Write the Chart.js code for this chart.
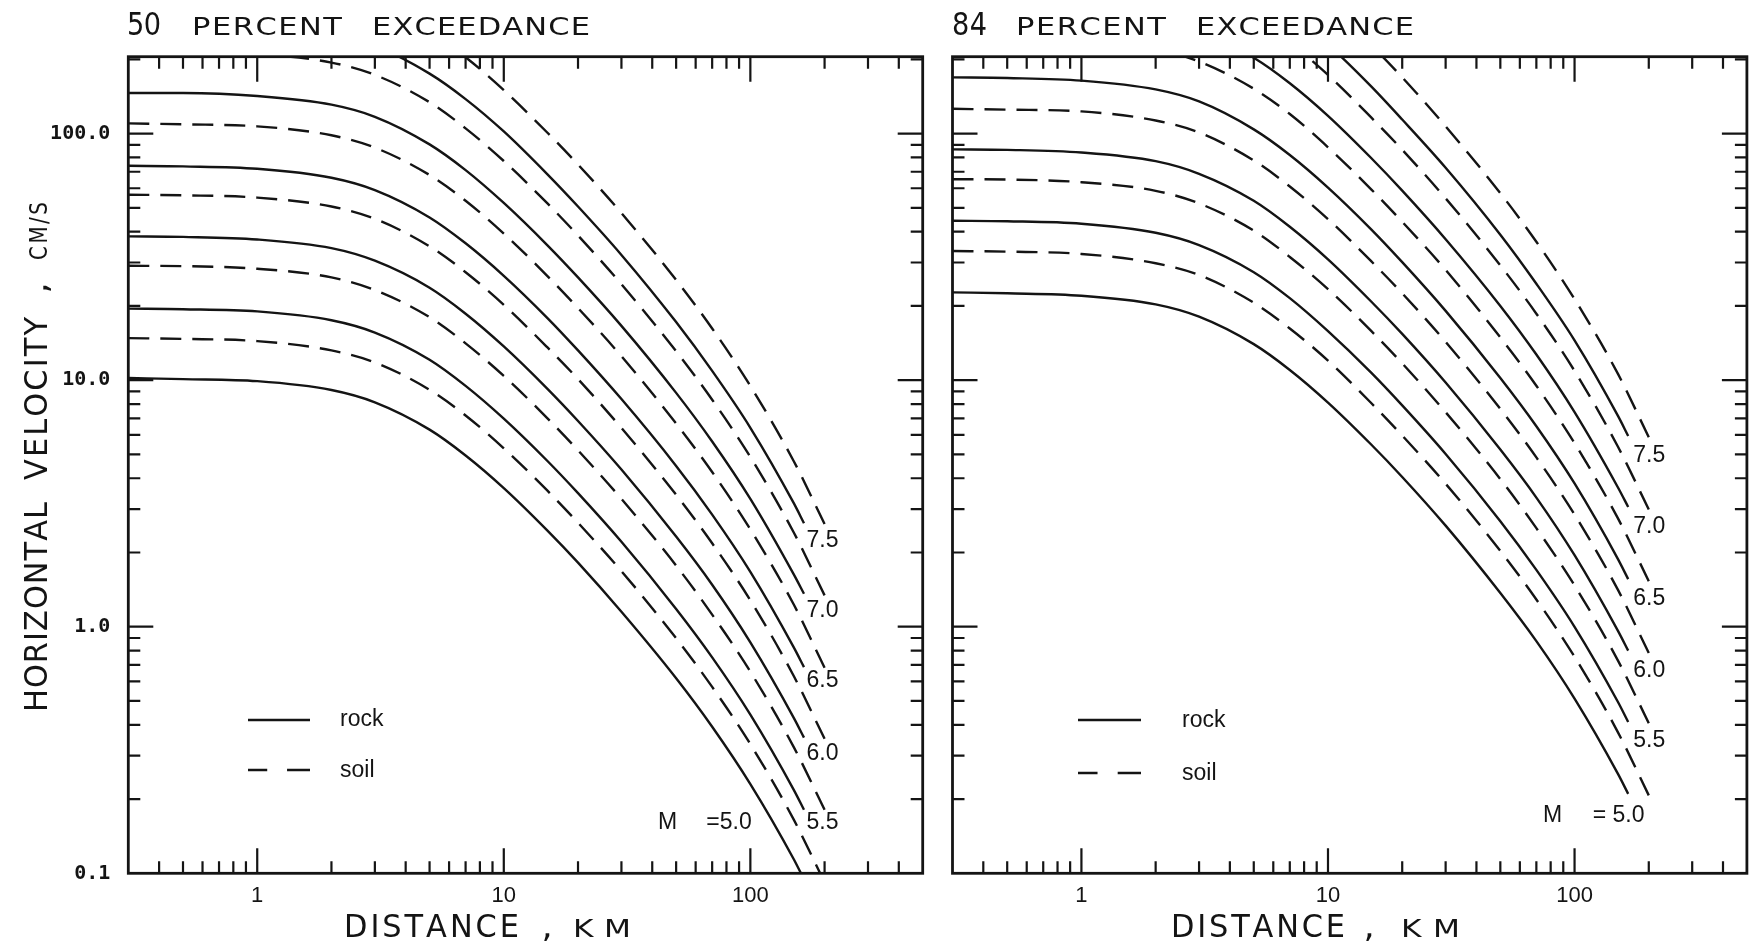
<!DOCTYPE html>
<html><head><meta charset="utf-8">
<script src="https://cdn.jsdelivr.net/npm/chart.js@4.4.1/dist/chart.umd.min.js"></script>
<style>
html,body{margin:0;padding:0;background:#fff;}
#wrap{position:relative;width:1757px;height:943px;overflow:hidden;background:#fff;}
canvas{position:absolute;top:0;}
</style></head><body>
<div id="wrap">
<canvas id="c50" width="940" height="943" style="left:0;width:940px;height:943px"></canvas>
<canvas id="c84" width="817" height="943" style="left:940px;width:817px;height:943px"></canvas>
</div>
<script>
// ---------------- data ----------------
const distancesRock = [0.3, 0.5, 1, 2, 3, 5, 7, 10, 15, 20, 30, 50, 70, 100, 150, 165];
const distancesSoil = [0.3, 0.5, 1, 2, 3, 5, 7, 10, 15, 20, 30, 50, 70, 100, 150, 200];

// 50 percent exceedance, rock (solid)
const rock50M50 = [10.2, 10.1, 9.91, 9.12, 8.13, 6.30, 4.95, 3.65, 2.46, 1.82, 1.15, 0.618, 0.393, 0.230, 0.114, 0.0945];
const rock50M55 = [19.5, 19.4, 19.0, 17.5, 15.6, 12.1, 9.48, 6.98, 4.71, 3.48, 2.21, 1.18, 0.751, 0.440, 0.218, 0.181];
const rock50M60 = [38.3, 38.1, 37.2, 34.3, 30.5, 23.7, 18.6, 13.7, 9.24, 6.83, 4.34, 2.32, 1.48, 0.864, 0.427, 0.355];
const rock50M65 = [74.0, 73.6, 72.0, 66.2, 59.0, 45.7, 35.9, 26.5, 17.9, 13.2, 8.38, 4.49, 2.85, 1.67, 0.825, 0.686];
const rock50M70 = [146, 146, 142, 131, 117, 90.4, 71.1, 52.3, 35.3, 26.1, 16.6, 8.88, 5.64, 3.30, 1.63, 1.36];
const rock50M75 = [284, 283, 276, 254, 227, 175, 138, 102, 68.5, 50.6, 32.2, 17.2, 10.9, 6.41, 3.17, 2.63];
// 50 percent exceedance, soil (dashed)
const soil50M50 = [14.8, 14.7, 14.4, 13.2, 11.8, 9.14, 7.19, 5.29, 3.57, 2.64, 1.68, 0.898, 0.570, 0.334, 0.165, 0.0918];
const soil50M55 = [29.1, 29.0, 28.3, 26.1, 23.2, 18.0, 14.1, 10.4, 7.02, 5.19, 3.30, 1.77, 1.12, 0.657, 0.325, 0.181];
const soil50M60 = [56.5, 56.2, 55.0, 50.6, 45.1, 34.9, 27.4, 20.2, 13.6, 10.1, 6.40, 3.43, 2.18, 1.28, 0.631, 0.351];
const soil50M65 = [110, 109, 107, 98.4, 87.7, 67.9, 53.4, 39.3, 26.5, 19.6, 12.5, 6.67, 4.24, 2.48, 1.23, 0.682];
const soil50M70 = [216, 215, 210, 194, 173, 134, 105, 77.4, 52.2, 38.6, 24.5, 13.1, 8.33, 4.88, 2.41, 1.34];
const soil50M75 = [420, 418, 408, 376, 335, 259, 204, 150, 101, 74.9, 47.6, 25.5, 16.2, 9.47, 4.69, 2.61];

// 84 percent exceedance, rock (solid)
const rock84M50 = [22.7, 22.5, 22.0, 20.3, 18.1, 14.0, 11.0, 8.11, 5.47, 4.05, 2.57, 1.37, 0.874, 0.511, 0.253, 0.210];
const rock84M55 = [44.3, 44.1, 43.1, 39.6, 35.3, 27.4, 21.5, 15.8, 10.7, 7.90, 5.02, 2.68, 1.70, 0.999, 0.495, 0.411];
const rock84M60 = [86.3, 85.9, 83.8, 77.3, 68.7, 53.4, 41.9, 30.9, 20.8, 15.4, 9.78, 5.23, 3.34, 1.95, 0.962, 0.800];
const rock84M65 = [169, 168, 164, 151, 135, 104, 81.9, 60.4, 40.8, 30.1, 19.1, 10.2, 6.50, 3.81, 1.88, 1.56];
const rock84M70 = [328, 328, 319, 295, 263, 203, 160, 118, 79.4, 58.7, 37.3, 20.0, 12.7, 7.42, 3.67, 3.06];
const rock84M75 = [642, 639, 623, 574, 513, 395, 312, 230, 155, 114, 72.7, 38.9, 24.6, 14.5, 7.16, 5.94];
// 84 percent exceedance, soil (dashed)
const soil84M50 = [33.4, 33.2, 32.5, 29.8, 26.7, 20.6, 16.2, 12.0, 8.06, 5.96, 3.80, 2.03, 1.29, 0.755, 0.373, 0.207];
const soil84M55 = [65.3, 65.1, 63.5, 58.6, 52.1, 40.4, 31.6, 23.4, 15.8, 11.7, 7.41, 3.97, 2.51, 1.47, 0.729, 0.406];
const soil84M60 = [126, 125, 123, 113, 101, 77.8, 61.0, 45.0, 30.3, 22.5, 14.3, 7.64, 4.86, 2.85, 1.41, 0.782];
const soil84M65 = [246, 244, 240, 220, 196, 152, 120, 88.0, 59.3, 43.9, 28.0, 14.9, 9.49, 5.55, 2.75, 1.53];
const soil84M70 = [481, 479, 468, 432, 385, 299, 234, 173, 116, 86.0, 54.6, 29.2, 18.6, 10.9, 5.37, 2.99];
const soil84M75 = [945, 940, 918, 846, 753, 582, 459, 337, 228, 169, 107, 57.3, 36.4, 21.3, 10.6, 5.87];

// axes / ticks
const xRange = [0.3, 500];
const yRange = [0.1, 205];
const xMajorTicks = [1, 10, 100];
const xTickLabels = ['1', '10', '100'];
const xMinorTicks = [0.4, 0.5, 0.6, 0.7, 0.8, 0.9, 2, 3, 4, 5, 6, 7, 8, 9, 20, 30, 40, 50, 60, 70, 80, 90, 200, 300, 400];
const yMajorTicks = [0.1, 1, 10, 100];
const yTickLabels = ['0.1', '1.0', '10.0', '100.0'];
const yMinorTicks = [0.2, 0.3, 0.4, 0.5, 0.6, 0.7, 0.8, 0.9, 2, 3, 4, 5, 6, 7, 8, 9, 20, 30, 40, 50, 60, 70, 80, 90, 200];
const curveLabels = ['7.5', '7.0', '6.5', '6.0', '5.5'];
const legendLabels = ['rock', 'soil'];

// ---------------- drawing ----------------
const INK = '#141414';
const BIG = '32px "DejaVu Sans"';
const SMALL = '25px "DejaVu Sans"';
const LABEL_FONT = '23px "Liberation Sans", Arial, sans-serif';
const LEGEND_FONT = '23px "Liberation Sans", Arial, sans-serif';

function isMajor(v) { const l = Math.log10(v); return Math.abs(l - Math.round(l)) < 1e-9; }

function drawSpaced(ctx, str, x0, x1, baseline, font, sx) {
  ctx.font = font;
  const chars = Array.from(str);
  const w = chars.map(c => ctx.measureText(c).width * sx);
  const total = w.reduce((a, b) => a + b, 0);
  const gap = chars.length > 1 ? (x1 - x0 - total) / (chars.length - 1) : 0;
  let x = chars.length > 1 ? x0 : (x0 + x1 - total) / 2;
  chars.forEach((c, i) => {
    ctx.save(); ctx.translate(x, baseline); ctx.scale(sx, 1); ctx.fillText(c, 0, 0); ctx.restore();
    x += w[i] + gap;
  });
}

const panelDecor = {
  id: 'panelDecor',
  afterDraw(chart, args, o) {
    const { ctx, chartArea: ca } = chart;
    const xs = chart.scales.x, ys = chart.scales.y;
    ctx.save();
    ctx.strokeStyle = INK; ctx.fillStyle = INK;
    ctx.lineCap = 'butt';
    // tick marks (inward, all four sides)
    ctx.lineWidth = 2.2;
    xs.ticks.forEach(t => {
      const px = xs.getPixelForValue(t.value);
      if (px <= ca.left + 1 || px >= ca.right - 1) return;
      const len = isMajor(t.value) ? 25 : 12;
      ctx.beginPath();
      ctx.moveTo(px, ca.bottom); ctx.lineTo(px, ca.bottom - len);
      ctx.moveTo(px, ca.top); ctx.lineTo(px, ca.top + len);
      ctx.stroke();
    });
    ys.ticks.forEach(t => {
      const py = ys.getPixelForValue(t.value);
      if (py <= ca.top + 1 || py >= ca.bottom - 1) return;
      const len = isMajor(t.value) ? 25 : 12;
      ctx.beginPath();
      ctx.moveTo(ca.left, py); ctx.lineTo(ca.left + len, py);
      ctx.moveTo(ca.right, py); ctx.lineTo(ca.right - len, py);
      ctx.stroke();
    });
    // frame
    ctx.lineWidth = 2.8;
    ctx.strokeRect(ca.left, ca.top, ca.right - ca.left, ca.bottom - ca.top);

    // curve labels, anchored in data units through the scales
    ctx.font = LABEL_FONT; ctx.textAlign = 'left'; ctx.textBaseline = 'alphabetic';
    curveLabels.forEach((txt, i) => {
      ctx.fillText(txt, xs.getPixelForValue(o.labelX), ys.getPixelForValue(o.labelY[i]));
    });
    ctx.fillText('M', xs.getPixelForValue(o.mX), ys.getPixelForValue(o.mY));
    ctx.fillText(o.eqText, xs.getPixelForValue(o.eqX), ys.getPixelForValue(o.mY));

    // legend
    const L = o.legend;
    ctx.lineWidth = 2.4;
    ctx.beginPath(); ctx.moveTo(L.x0, L.y1); ctx.lineTo(L.x1, L.y1); ctx.stroke();
    const mid = (L.x1 - L.x0);
    ctx.beginPath();
    ctx.moveTo(L.x0, L.y2); ctx.lineTo(L.x0 + mid * 0.31, L.y2);
    ctx.moveTo(L.x0 + mid * 0.63, L.y2); ctx.lineTo(L.x1, L.y2);
    ctx.stroke();
    ctx.font = LEGEND_FONT;
    ctx.fillText(legendLabels[0], L.tx, L.b1);
    ctx.fillText(legendLabels[1], L.tx, L.b2);

    // titles
    ctx.textAlign = 'left'; ctx.textBaseline = 'alphabetic';
    const T = o.title;
    drawSpaced(ctx, T.num, T.n0, T.n1, T.base, BIG, 0.85);
    drawSpaced(ctx, 'PERCENT', T.p0, T.p1, T.base, SMALL, 1.22);
    drawSpaced(ctx, 'EXCEEDANCE', T.e0, T.e1, T.base, SMALL, 1.22);
    const X = o.xTitle;
    drawSpaced(ctx, 'DISTANCE', X.d0, X.d1, X.base, BIG, 0.95);
    drawSpaced(ctx, ',', X.c - 5, X.c + 5, X.base, BIG, 1.1);
    drawSpaced(ctx, 'KM', X.k0, X.k1, X.base, SMALL, 1.25);
    if (o.yTitle) {
      const Y = o.yTitle;
      ctx.save();
      ctx.translate(Y.base, 0); ctx.rotate(-Math.PI / 2);
      drawSpaced(ctx, 'HORIZONTAL', -Y.h0, -Y.h1, 0, BIG, 0.95);
      drawSpaced(ctx, 'VELOCITY', -Y.v0, -Y.v1, 0, BIG, 0.95);
      drawSpaced(ctx, ',', -Y.c - 5, -Y.c + 5, 0, BIG, 1.1);
      drawSpaced(ctx, 'CM/S', -Y.u0, -Y.u1, 0, SMALL, 0.8);
      ctx.restore();
    }
    ctx.restore();
  }
};

function series(dist, vals, dashed) {
  return {
    data: dist.map((d, i) => ({ x: d, y: vals[i] })),
    borderColor: INK, borderWidth: 2.4,
    borderDash: dashed ? [21, 11] : [],
    pointRadius: 0, pointHoverRadius: 0, fill: false,
    cubicInterpolationMode: 'monotone', capBezierPoints: false
  };
}

function tickLabel(v, majors, labels) {
  const i = majors.findIndex(m => Math.abs(m - v) / m < 1e-6);
  return i >= 0 ? labels[i] : '';
}

function makeChart(id, datasets, box, showY, decor) {
  return new Chart(document.getElementById(id), {
    type: 'line',
    data: { datasets },
    options: {
      responsive: false, animation: false, devicePixelRatio: 1,
      layout: { padding: { left: 0, bottom: 0, top: box.top, right: box.right }, autoPadding: false },
      plugins: { legend: { display: false }, tooltip: { enabled: false }, panelDecor: decor },
      events: [],
      scales: {
        x: {
          type: 'logarithmic', min: xRange[0], max: xRange[1],
          grid: { display: false, drawTicks: false }, border: { display: false },
          ticks: {
            autoSkip: false, maxRotation: 0, minRotation: 0, padding: 9, color: INK,
            font: { family: '"Liberation Sans", Arial, sans-serif', size: 22 },
            callback: v => tickLabel(v, xMajorTicks, xTickLabels)
          },
          afterBuildTicks: s => { s.ticks = xMajorTicks.concat(xMinorTicks).sort((a, b) => a - b).map(v => ({ value: v })); },
          afterFit: s => { s.height = box.bottom; }
        },
        y: {
          type: 'logarithmic', min: yRange[0], max: yRange[1],
          grid: { display: false, drawTicks: false }, border: { display: false },
          ticks: {
            display: showY, autoSkip: false, padding: 18, color: INK,
            font: { family: '"DejaVu Sans Mono", monospace', size: 20, weight: 'bold' },
            callback: v => tickLabel(v, yMajorTicks, yTickLabels)
          },
          afterBuildTicks: s => { s.ticks = yMajorTicks.concat(yMinorTicks).sort((a, b) => a - b).map(v => ({ value: v })); },
          afterFit: s => { s.width = box.left; }
        }
      }
    },
    plugins: [panelDecor]
  });
}

makeChart('c50', [
  series(distancesRock, rock50M50, false), series(distancesRock, rock50M55, false),
  series(distancesRock, rock50M60, false), series(distancesRock, rock50M65, false),
  series(distancesRock, rock50M70, false), series(distancesRock, rock50M75, false),
  series(distancesSoil, soil50M50, true), series(distancesSoil, soil50M55, true),
  series(distancesSoil, soil50M60, true), series(distancesSoil, soil50M65, true),
  series(distancesSoil, soil50M70, true), series(distancesSoil, soil50M75, true)
], { left: 128.3, top: 56.7, right: 17.3, bottom: 69.7 }, true, {
  labelX: 169, labelY: [2.11, 1.10, 0.568, 0.288, 0.151],
  mX: 42.2, mY: 0.151, eqX: 66.3, eqText: '=5.0',
  legend: { x0: 248, x1: 310, y1: 720, y2: 770, tx: 340, b1: 726, b2: 777 },
  title: { num: '50', n0: 127, n1: 161, p0: 192, p1: 342, e0: 372, e1: 590, base: 35 },
  xTitle: { d0: 344, d1: 519, c: 547, k0: 573, k1: 631, base: 937 },
  yTitle: { base: 47, h0: 712, h1: 502, v0: 480, v1: 317, c: 288, u0: 260, u1: 202 }
});

makeChart('c84', [
  series(distancesRock, rock84M50, false), series(distancesRock, rock84M55, false),
  series(distancesRock, rock84M60, false), series(distancesRock, rock84M65, false),
  series(distancesRock, rock84M70, false), series(distancesRock, rock84M75, false),
  series(distancesSoil, soil84M50, true), series(distancesSoil, soil84M55, true),
  series(distancesSoil, soil84M60, true), series(distancesSoil, soil84M65, true),
  series(distancesSoil, soil84M70, true), series(distancesSoil, soil84M75, true)
], { left: 12.5, top: 56.7, right: 10.1, bottom: 69.7 }, false, {
  labelX: 173, labelY: [4.67, 2.39, 1.22, 0.627, 0.326],
  mX: 74.5, mY: 0.162, eqX: 118.4, eqText: '= 5.0',
  legend: { x0: 138, x1: 201, y1: 720, y2: 773, tx: 242, b1: 727, b2: 780 },
  title: { num: '84', n0: 12, n1: 47, p0: 76, p1: 226, e0: 256, e1: 474, base: 35 },
  xTitle: { d0: 231, d1: 405, c: 429, k0: 461, k1: 520, base: 937 },
  yTitle: null
});
</script>
</body></html>
